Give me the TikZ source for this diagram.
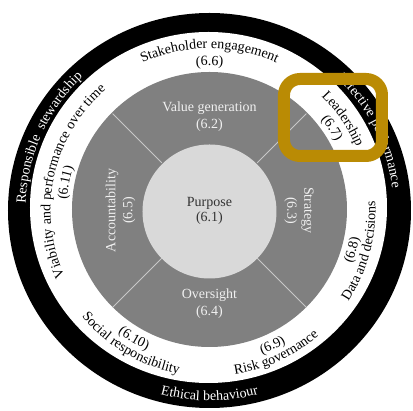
\documentclass[tikz,border=0pt]{standalone}
\usepackage{fontspec}
\setmainfont{Liberation Serif}
\usetikzlibrary{decorations.text}
\definecolor{ringgray}{RGB}{128,128,128}
\definecolor{corelight}{RGB}{217,217,217}
\definecolor{divider}{RGB}{200,200,200}
\definecolor{highlight}{RGB}{186,139,4}
\definecolor{coretext}{RGB}{51,51,51}
\newcommand{\ringfont}{\fontsize{14}{15}\selectfont}
\tikzset{
  arctext/.style={decorate,decoration={text along path,text align=center,text color=#1}},
  arctext/.default=black,
  sectorlabel/.style={align=center,text=white!94!black,font=\fontsize{14}{17}\selectfont},
}
\begin{document}
\begin{tikzpicture}[x=1pt,y=1pt]
\useasboundingbox[fill=white] (-209.5,-200.5) rectangle (203.5,210.5);
\fill[black] (0,0) ellipse[x radius=201.5,y radius=197.5];
\fill[white] (-1,3) ellipse[x radius=178.5,y radius=175.5];
\fill[ringgray] (0,1) circle[radius=137.5];
\fill[corelight] (0,-1) circle[radius=67];
\foreach \a in {45,135,225,315}
  \draw[divider,line width=1pt] (\a:67.5) -- (\a:137);
% outer ring
\path[arctext=white,decoration={text={|\ringfont|Responsible {~}stewardship}}] (215.7:184) arc[start angle=215.7,end angle=95.7,radius=184];
\path[arctext=white,decoration={text={|\ringfont|Effective performance}}] (86.5:184) arc[start angle=86.5,end angle=-33.5,radius=184];
\path[arctext=white,decoration={text={|\ringfont|Ethical behaviour}}] (210:190) arc[start angle=210,end angle=330,radius=190];
% white ring
\path[arctext,decoration={text={|\ringfont|Stakeholder engagement}}] (140:162) arc[start angle=140,end angle=40,radius=162];
\path[arctext,decoration={text={|\ringfont|(6.6)}}] (130:145) arc[start angle=130,end angle=50,radius=145];
\path[arctext,decoration={text={|\ringfont|Leadership}}] (74.5:160) arc[start angle=74.5,end angle=-5.5,radius=160];
\path[arctext,decoration={text={|\ringfont|(6.7)}}] (74:144) arc[start angle=74,end angle=-6,radius=144];
\path[arctext,decoration={text={|\ringfont|(6.8)}}] (294.6:152) arc[start angle=294.6,end angle=394.6,radius=152];
\path[arctext,decoration={text={|\ringfont|Data and decisions}}] (295:166) arc[start angle=295,end angle=395,radius=166];
\path[arctext,decoration={text={|\ringfont|(6.9)}}] (245:153) arc[start angle=245,end angle=345,radius=153];
\path[arctext,decoration={text={|\ringfont|Risk governance}}] (245:166) arc[start angle=245,end angle=345,radius=166];
\path[arctext,decoration={text={|\ringfont|(6.10)}}] (189.5:153) arc[start angle=189.5,end angle=289.5,radius=153];
\path[arctext,decoration={text={|\ringfont|Social responsibility}}] (189.5:166) arc[start angle=189.5,end angle=289.5,radius=166];
\path[arctext,decoration={text={|\ringfont|Viability and performance over time}}] (227.5:159) arc[start angle=227.5,end angle=107.5,radius=159];
\path[arctext,decoration={text={|\ringfont|(6.11)}}] (219:143) arc[start angle=219,end angle=119,radius=143];
% inner sectors
\node[sectorlabel] (valuegen) at (0,94) {Value generation\\(6.2)};
\node[sectorlabel,rotate=-90] (strategy) at (89.5,0) {Strategy\\(6.3)};
\node[sectorlabel] (oversight) at (0,-93) {Oversight\\(6.4)};
\node[sectorlabel,rotate=90] (accountability) at (-89,0) {Accountability\\(6.5)};
\node[align=center,text=coretext,font=\fontsize{14}{15}\selectfont] (purpose) at (0,0) {Purpose\\(6.1)};
\draw[highlight,line width=12pt,rounded corners=16pt] (74.5,54.5) rectangle (172.5,131.5);
\end{tikzpicture}
\end{document}
